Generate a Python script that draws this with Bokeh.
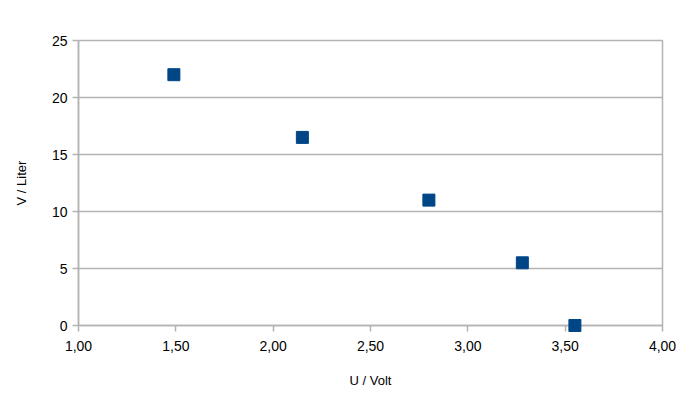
from bokeh.plotting import figure
from bokeh.models import Range1d, FixedTicker, CustomJSTickFormatter
from bokeh.embed import file_html
from bokeh.resources import INLINE

# data
u_volt = [1.49, 2.15, 2.80, 3.28, 3.55]
v_liter = [22, 16.5, 11, 5.5, 0]
x_ticks = [1.0, 1.5, 2.0, 2.5, 3.0, 3.5, 4.0]
y_ticks = [0, 5, 10, 15, 20, 25]

GRID = "#b3b3b3"
FONT = "Liberation Sans"

p = figure(width=683, height=397, output_backend="svg", toolbar_location=None,
           x_range=Range1d(1, 4), y_range=Range1d(0, 25),
           min_border_left=78, min_border_right=21, min_border_top=40, min_border_bottom=72)

r = p.scatter(u_volt, v_liter, marker="square", size=12, fill_color="#004586",
              line_color="#004586", level="overlay")

p.xaxis.ticker = FixedTicker(ticks=x_ticks)
p.yaxis.ticker = FixedTicker(ticks=y_ticks)
p.xaxis.formatter = CustomJSTickFormatter(code="return tick.toFixed(2).replace('.', ',');")

for ax in (p.xaxis, p.yaxis):
    ax.axis_line_color = GRID
    ax.axis_line_width = 1.5
    ax.major_tick_line_color = GRID
    ax.major_tick_line_width = 1.5
    ax.major_tick_out = 6
    ax.major_tick_in = 0
    ax.minor_tick_line_color = None
    ax.major_label_text_font = FONT
    ax.major_label_text_font_size = "14px"
    ax.major_label_text_color = "#000000"
    ax.axis_label_text_font = FONT
    ax.axis_label_text_font_size = "13px"
    ax.axis_label_text_font_style = "normal"
    ax.axis_label_text_color = "#000000"

p.xaxis.axis_label = "U / Volt"
p.yaxis.axis_label = "V / Liter"
p.xaxis.major_label_standoff = 9
p.yaxis.major_label_standoff = 5
p.xaxis.axis_label_standoff = 19
p.yaxis.axis_label_standoff = 20

p.xgrid.grid_line_color = None
p.ygrid.grid_line_color = GRID
p.ygrid.grid_line_width = 1.5
p.outline_line_color = GRID
p.outline_line_width = 1.5

open("out.html", "w").write(file_html(p, INLINE))
